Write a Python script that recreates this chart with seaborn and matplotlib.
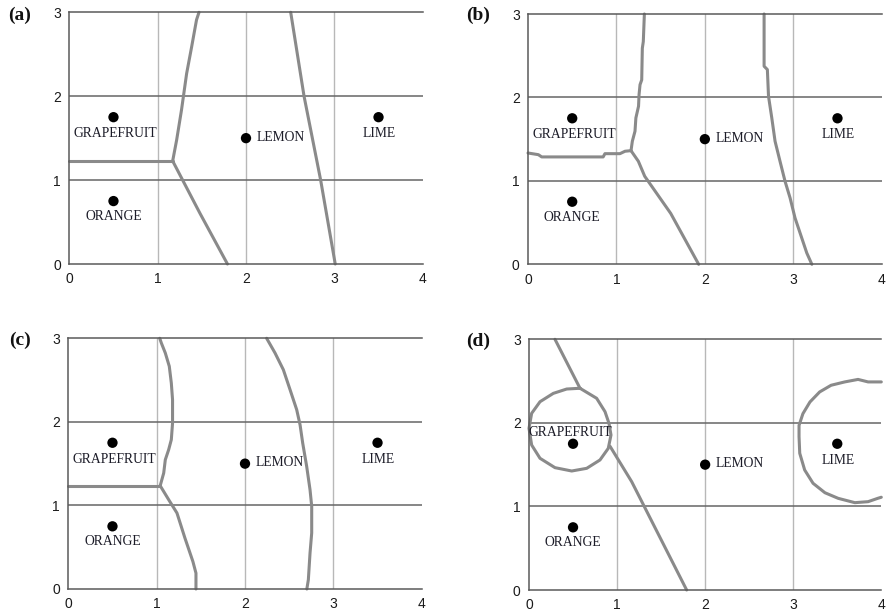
import matplotlib
matplotlib.use("Agg")
import matplotlib.pyplot as plt
import seaborn as sns
import pandas as pd

# Training points
fruit_names = ["GRAPEFRUIT", "ORANGE", "LEMON", "LIME"]
fruit_x = [0.5, 0.5, 2.0, 3.5]
fruit_y = [1.75, 0.75, 1.5, 1.75]

# Decision boundaries, panel (a)
a_gf_or_x = [0.0, 1.17]
a_gf_or_y = [1.228, 1.228]
a_gf_le_x = [1.17, 1.215, 1.27, 1.328, 1.385, 1.44, 1.468]
a_gf_le_y = [1.228, 1.478, 1.836, 2.27, 2.59, 2.91, 3.0]
a_or_le_x = [1.17, 1.479, 1.79]
a_or_le_y = [1.228, 0.604, 0.0]
a_le_li_x = [2.506, 2.657, 2.845, 3.01]
a_le_li_y = [3.0, 2.0, 1.0, 0.0]

# Decision boundaries, panel (b)
b_gf_or_x = [0.0, 0.117, 0.155, 0.85, 0.87, 1.04, 1.097, 1.165]
b_gf_or_y = [1.334, 1.314, 1.287, 1.287, 1.326, 1.326, 1.355, 1.362]
b_gf_le_x = [1.165, 1.18, 1.21, 1.22, 1.25, 1.256, 1.267, 1.286, 1.293, 1.304, 1.316]
b_gf_le_y = [1.362, 1.475, 1.595, 1.754, 1.894, 2.034, 2.153, 2.21, 2.59, 2.67, 3.0]
b_or_le_x = [1.165, 1.248, 1.32, 1.614, 1.93]
b_or_le_y = [1.362, 1.235, 1.055, 0.61, 0.0]
b_le_li_x = [2.67, 2.67, 2.707, 2.72, 2.757, 2.794, 2.85, 2.907, 2.964, 3.02, 3.096, 3.153, 3.21]
b_le_li_y = [3.0, 2.374, 2.334, 2.014, 1.754, 1.475, 1.235, 0.995, 0.795, 0.555, 0.315, 0.135, 0.0]

# Decision boundaries, panel (c)
c_gf_or_x = [0.0, 1.04]
c_gf_or_y = [1.236, 1.236]
c_gf_le_x = [1.04, 1.08, 1.098, 1.136, 1.166, 1.18, 1.18, 1.166, 1.143, 1.098, 1.053, 1.035]
c_gf_le_y = [1.236, 1.388, 1.547, 1.667, 1.787, 1.986, 2.265, 2.465, 2.665, 2.824, 2.944, 3.0]
c_or_le_x = [1.04, 1.136, 1.23, 1.32, 1.41, 1.445, 1.445]
c_or_le_y = [1.236, 1.069, 0.909, 0.61, 0.33, 0.19, 0.0]
c_le_li_x = [2.245, 2.34, 2.434, 2.51, 2.585, 2.623, 2.653, 2.698, 2.736, 2.755, 2.755, 2.736, 2.717, 2.70]
c_le_li_y = [3.0, 2.824, 2.624, 2.385, 2.146, 1.966, 1.747, 1.468, 1.188, 0.99, 0.67, 0.43, 0.11, 0.0]

# Decision boundaries, panel (d)
d_or_le_top_x = [0.295, 0.579]
d_or_le_top_y = [3.0, 2.414]
d_or_le_bot_x = [0.92, 1.166, 1.79]
d_or_le_bot_y = [1.72, 1.296, 0.0]
d_gf_x = [0.579, 0.768, 0.863, 0.908, 0.931, 0.90, 0.806, 0.655, 0.485, 0.295, 0.125,
          0.03, 0.0, 0.03, 0.125, 0.276, 0.428, 0.579]
d_gf_y = [2.414, 2.294, 2.134, 1.995, 1.855, 1.695, 1.556, 1.456, 1.424, 1.464, 1.576,
          1.735, 1.935, 2.114, 2.253, 2.353, 2.405, 2.414]
d_li_x = [4.0, 3.85, 3.736, 3.585, 3.43, 3.30, 3.19, 3.11, 3.066, 3.066, 3.074, 3.13,
          3.225, 3.36, 3.51, 3.70, 3.85, 3.96, 4.0]
d_li_y = [2.49, 2.49, 2.52, 2.49, 2.45, 2.37, 2.25, 2.11, 1.97, 1.835, 1.636, 1.436,
          1.277, 1.164, 1.097, 1.045, 1.057, 1.097, 1.11]

panel_tags = ["(a)", "(b)", "(c)", "(d)"]
panel_curves = {
    "(a)": [(a_gf_or_x, a_gf_or_y), (a_gf_le_x, a_gf_le_y), (a_or_le_x, a_or_le_y), (a_le_li_x, a_le_li_y)],
    "(b)": [(b_gf_or_x, b_gf_or_y), (b_gf_le_x, b_gf_le_y), (b_or_le_x, b_or_le_y), (b_le_li_x, b_le_li_y)],
    "(c)": [(c_gf_or_x, c_gf_or_y), (c_gf_le_x, c_gf_le_y), (c_or_le_x, c_or_le_y), (c_le_li_x, c_le_li_y)],
    "(d)": [(d_or_le_top_x, d_or_le_top_y), (d_or_le_bot_x, d_or_le_bot_y), (d_gf_x, d_gf_y), (d_li_x, d_li_y)],
}

sns.set_style("white")
plt.rcParams["font.family"] = ["Liberation Sans", "DejaVu Sans"]

fig = plt.figure(figsize=(8.88, 6.14), dpi=100)
W, H = 888.0, 614.0
# axes boxes in pixels: left, right, top, bottom
boxes = {
    "(a)": (69.3, 422.7, 12.3, 264.0),
    "(b)": (528.0, 881.7, 14.0, 264.3),
    "(c)": (68.3, 421.7, 338.3, 589.0),
    "(d)": (529.0, 881.3, 339.3, 590.0),
}
tag_pos = {"(a)": (20, 15), "(b)": (478, 15), "(c)": (20, 340), "(d)": (478, 341)}

points = pd.DataFrame({"fruit": fruit_names, "x": fruit_x, "y": fruit_y})

serif = ["Liberation Serif", "DejaVu Serif"]
line_col = "#8a8a8a"

for tag in panel_tags:
    l, r, t, b = boxes[tag]
    ax = fig.add_axes([l / W, 1 - b / H, (r - l) / W, (b - t) / H])
    ax.set_xlim(0, 4)
    ax.set_ylim(0, 3)
    ax.set_xticks([0, 1, 2, 3, 4])
    ax.set_yticks([0, 1, 2, 3])

    for xv in [1, 2, 3]:
        ax.axvline(xv, color="#b8b8b8", lw=1.0, zorder=0)
    for yv in [1, 2]:
        ax.axhline(yv, color="#666666", lw=1.1, zorder=0)

    ax.spines["right"].set_visible(False)
    for s in ["left", "bottom", "top"]:
        ax.spines[s].set_color("#5a5a5a")
        ax.spines[s].set_linewidth(1.1)
    ax.tick_params(axis="both", direction="out", length=4, width=1.0, color="#5a5a5a",
                   labelsize=10, labelcolor="#1a1a1a", pad=2)

    for cx, cy in panel_curves[tag]:
        sns.lineplot(x=cx, y=cy, ax=ax, sort=False, estimator=None, color=line_col,
                     lw=2.2, zorder=2, clip_on=False)

    sns.scatterplot(data=points, x="x", y="y", ax=ax, color="black", s=55,
                    edgecolor="none", zorder=4)
    ax.set_xlabel("")
    ax.set_ylabel("")

    lab = dict(fontsize=9.8, family=serif, color="#1c1c28", zorder=5)
    gx, gy = fruit_x[0], fruit_y[0]
    if tag == "(d)":
        ax.text(gx - 0.03, gy + 0.14, fruit_names[0], ha="center", va="center", **lab)
    else:
        ax.text(gx + 0.02, gy - 0.2, fruit_names[0], ha="center", va="center", **lab)
    ax.text(fruit_x[1], fruit_y[1] - 0.185, fruit_names[1], ha="center", va="center", **lab)
    ax.text(fruit_x[2] + 0.12, fruit_y[2] + 0.01, fruit_names[2], ha="left", va="center", **lab)
    ax.text(fruit_x[3] + 0.01, fruit_y[3] - 0.2, fruit_names[3], ha="center", va="center", **lab)

    px, py = tag_pos[tag]
    fig.text(px / W, 1 - py / H, tag, ha="center", va="center", fontsize=14,
             fontweight="bold", family=serif, color="#111111")

fig.savefig("out.png", dpi=100)
